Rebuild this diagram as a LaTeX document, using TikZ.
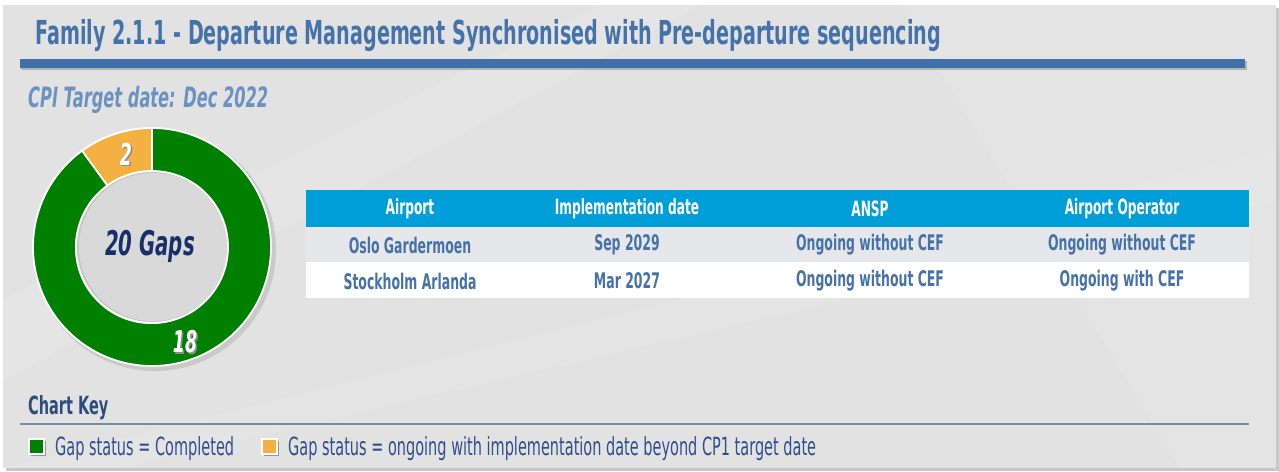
\documentclass[tikz,border=0pt]{standalone}
\usepackage{fontspec}
\setmainfont{DejaVu Sans}
\newfontfamily\agency{DejaVu Sans}[FakeStretch=0.58]
\usetikzlibrary{calc}

\definecolor{panelgray}{HTML}{E2E2E2}
\definecolor{titleblue}{HTML}{4672AA}
\definecolor{barblue}{HTML}{4070AA}
\definecolor{cpiblue}{HTML}{6C92C2}
\definecolor{ringgreen}{HTML}{008000}
\definecolor{ringorange}{HTML}{F4B042}
\definecolor{navy}{HTML}{172F6B}
\definecolor{headblue}{HTML}{009FDA}
\definecolor{rowgray}{HTML}{E6E7EB}
\definecolor{bodyblue}{HTML}{4672AA}
\definecolor{keyblue}{HTML}{2E4C7E}
\definecolor{keyline}{HTML}{7A8AA2}
\definecolor{legendblue}{HTML}{2F4F8C}

\tikzset{
  headcell/.style={text=white, inner sep=0pt,
    font=\agency\bfseries\fontsize{21}{21}\selectfont},
  bodycell/.style={text=bodyblue, inner sep=0pt,
    font=\agency\bfseries\fontsize{21.5}{21.5}\selectfont},
  ringlabel/.style={text=white, font=\agency\bfseries\itshape\fontsize{30}{30}\selectfont},
  keybox/.style={draw=white, line width=1.8pt, minimum size=15pt, inner sep=0pt},
  keytext/.style={anchor=base west, text=legendblue, inner sep=0pt,
    font=\agency\fontsize{25}{25}\selectfont}
}

\begin{document}
\begin{tikzpicture}[x=1pt,y=-1pt]
\useasboundingbox (0,0) rectangle (1279,471);
\fill[white] (0,0) rectangle (1279,471);

% panel with a soft drop shadow
\fill[black!22] (6,8) rectangle (1279,471);
\fill[panelgray] (3,5) rectangle (1276,468);
% faint light streaks across the panel
\fill[white, opacity=0.12] (3,300) -- (600,5) -- (700,5) -- (3,380) -- cycle;
\fill[white, opacity=0.10] (3,468) -- (1276,150) -- (1276,200) -- (120,468) -- cycle;
\fill[white, opacity=0.10] (900,5) -- (1276,5) -- (1276,468) -- (1180,468) -- cycle;

% heading and rule
\node[anchor=base west, inner sep=0pt, text=titleblue,
      font=\agency\bfseries\fontsize{33}{33}\selectfont] (title) at (35,44)
  {Family 2.1.1 - Departure Management Synchronised with Pre-departure sequencing};
\fill[black!30] (21,61) rectangle (1247,70);
\fill[barblue] (20,59) rectangle (1245,68);

\node[anchor=base west, inner sep=0pt, text=cpiblue,
      font=\agency\bfseries\itshape\fontsize{28}{28}\selectfont] (cpi) at (28,107)
  {CPI Target date: Dec 2022};

% doughnut chart: 18 completed, 2 ongoing
\coordinate (c) at (152,247);
\fill[black!30, opacity=0.5] ($(c)+(3,3)$) circle[radius=121];
\fill[ringorange] ($(c)+(-90:119)$) arc[start angle=-90, end angle=-126, radius=119]
  -- ($(c)+(-126:76)$) arc[start angle=-126, end angle=-90, radius=76] -- cycle;
\fill[ringgreen] ($(c)+(-126:119)$) arc[start angle=-126, end angle=-450, radius=119]
  -- ($(c)+(-450:76)$) arc[start angle=-450, end angle=-126, radius=76] -- cycle;
\draw[white, line width=1.8pt] (c) circle[radius=119];
\fill[black!22] ($(c)+(-1,1)$) circle[radius=76];
\fill[panelgray!96!black] ($(c)+(1,0)$) circle[radius=74];
\draw[white, line width=1.8pt] (c) circle[radius=76];
\draw[white, line width=1.8pt] ($(c)+(-90:76)$) -- ($(c)+(-90:119)$);
\draw[white, line width=1.8pt] ($(c)+(-126:76)$) -- ($(c)+(-126:119)$);

\node[ringlabel, text=black!45] at (127.5,155.5) {2};
\node[ringlabel] (lbltwo) at (126,154) {2};
\node[ringlabel, text=black!45] at (186.5,343.5) {18};
\node[ringlabel] (lbleighteen) at (185,342) {18};
\node[text=navy, font=\agency\bfseries\itshape\fontsize{34}{34}\selectfont]
  (gaps) at (150,246) {20 Gaps};

% status table: row bands, then cell texts
\fill[headblue] (306,190) rectangle (1249,227);
\fill[rowgray] (306,227) rectangle (1249,262);
\fill[white] (306,262) rectangle (1249,298);

\node[headcell] (h1) at (410,209) {Airport};
\node[headcell] (h2) at (627,209) {Implementation date};
\node[headcell] (h3) at (870,209) {ANSP};
\node[headcell] (h4) at (1122,209) {Airport Operator};

\node[bodycell] (a1) at (410,245) {Oslo Gardermoen};
\node[bodycell] (b1) at (627,245) {Sep 2029};
\node[bodycell] (c1) at (870,245) {Ongoing without CEF};
\node[bodycell] (d1) at (1122,245) {Ongoing without CEF};

\node[bodycell] (a2) at (410,281) {Stockholm Arlanda};
\node[bodycell] (b2) at (627,281) {Mar 2027};
\node[bodycell] (c2) at (870,281) {Ongoing without CEF};
\node[bodycell] (d2) at (1122,281) {Ongoing with CEF};

% chart key
\node[anchor=base west, inner sep=0pt, text=keyblue,
      font=\agency\bfseries\fontsize{25}{25}\selectfont] (key) at (28,414) {Chart Key};
\draw[keyline, line width=1.2pt] (20,424) -- (1249,424);

\node[keybox, draw=none, fill=black!40] at (38.5,448.5) {};
\node[keybox, fill=ringgreen] (kgreen) at (36.5,446.5) {};
\node[keytext] (tgreen) at (55,455) {Gap status = Completed};
\node[keybox, draw=none, fill=black!40] at (271.5,448.5) {};
\node[keybox, fill=ringorange] (korange) at (269.5,446.5) {};
\node[keytext] (torange) at (288,455) {Gap status = ongoing with implementation date beyond CP1 target date};
\end{tikzpicture}
\end{document}
